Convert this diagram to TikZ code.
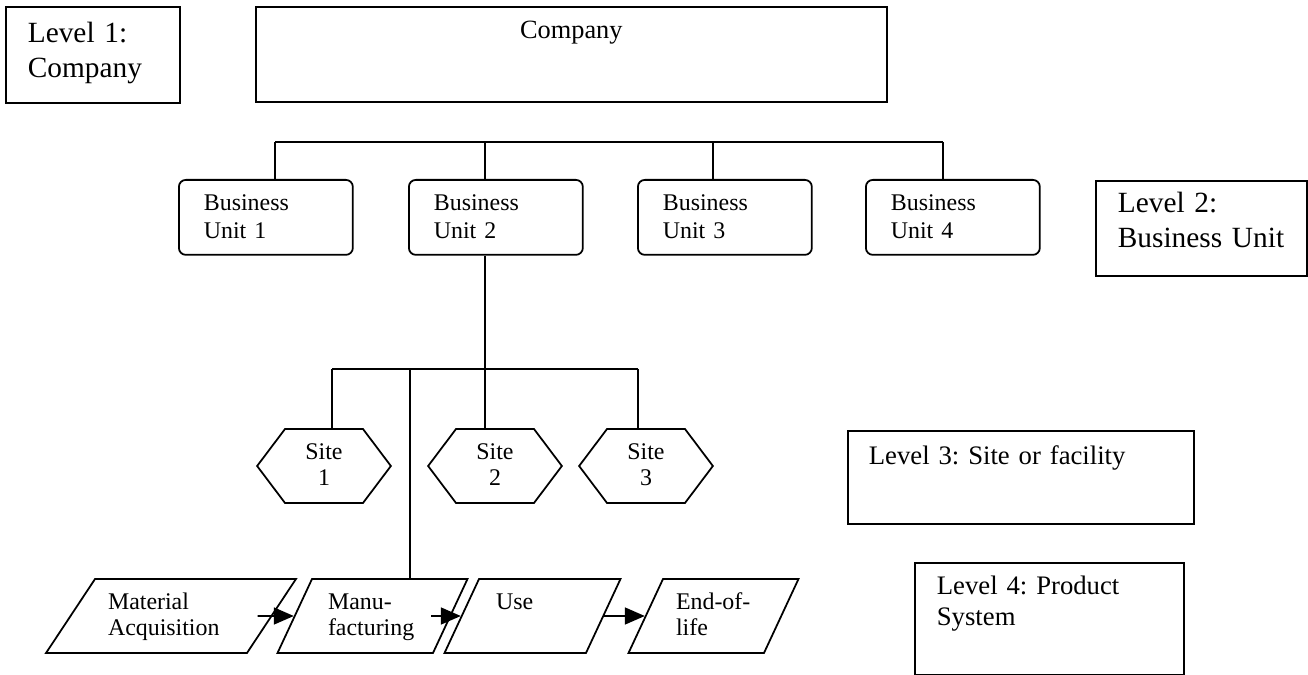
\documentclass[tikz,border=0pt]{standalone}
\usepackage{fontspec}
\setmainfont{Liberation Serif}
\usetikzlibrary{positioning,shapes.geometric,shapes.symbols,arrows.meta}
\frenchspacing

\begin{document}
\begin{tikzpicture}[x=0.02cm,y=-0.02cm,line width=1pt,
  lvlbox/.style={draw, anchor=north west, align=left, inner ysep=0pt, inner xsep=0.44cm, font=\fontsize{16.7}{19.6}\selectfont},
  unitbox/.style={draw, rounded corners=0.14cm, anchor=north west, align=left, inner ysep=0pt, inner xsep=0.5cm, text width=2.48cm, text height=0.62cm, text depth=0.88cm, font=\fontsize{13.6}{15.9}\selectfont},
  sitebox/.style={draw, signal, signal to=west and east, signal pointer angle=106, align=center, inner sep=0pt, text width=1.56cm, text height=0.6cm, text depth=0.88cm, font=\fontsize{13.6}{14.8}\selectfont},
  stagebox/.style={draw, trapezium, trapezium left angle=65, trapezium right angle=115, align=left, inner ysep=0pt, text height=0.6cm, text depth=0.88cm, font=\fontsize{13.6}{14.8}\selectfont},
  flow/.style={-{Triangle[length=0.4cm,width=0.34cm]}}
]
\useasboundingbox (0,0) rectangle (1308,675);

% level 1
\node[lvlbox, text width=2.6cm, text height=0.72cm, text depth=1.2cm] (lvlone) at (5,6) {Level 1:\\Company};
\node[draw, anchor=north west, align=center, inner sep=0pt, text width=12.62cm, text height=0.64cm, text depth=1.26cm, font=\fontsize{15}{18}\selectfont] (company) at (255,6) {Company};

% level 2
\foreach \i/\x in {1/178,2/408,3/637,4/865}
  \node[unitbox] (bu\i) at (\x,179) {Business\\Unit \i};
\node[lvlbox, text width=3.34cm, text height=0.64cm, text depth=1.26cm] (lvltwo) at (1095,180) {Level 2:\\Business Unit};

\draw (275,142) -- (943,142);
\foreach \u/\x in {bu1/275,bu2/485,bu3/713,bu4/943}
  \draw (\x,142) -- (\x,0 |- \u.north);

% level 3
\node[sitebox] (site1) at (324,466) {Site\\1};
\node[sitebox] (site2) at (495,466) {Site\\2};
\node[sitebox] (site3) at (646,466) {Site\\3};
\node[lvlbox, font=\fontsize{15.2}{17.4}\selectfont, inner xsep=0.42cm, text width=6.08cm, text height=0.68cm, text depth=1.18cm] (lvlthree) at (847,430) {Level 3: Site or facility};

\draw (485,0 |- bu2.south) -- (485,0 |- site2.north);
\draw (332,369) -- (638,369);
\foreach \s/\x in {site1/332,site3/638}
  \draw (\x,369) -- (\x,0 |- \s.north);

% level 4
\node[stagebox, trapezium left angle=56.5, trapezium right angle=123.5, inner xsep=0.26cm, text width=2.52cm] (matacq) at (171,616) {Material\\Acquisition};
\node[stagebox, inner xsep=0.32cm, text width=1.78cm] (manuf) at (372.5,616) {Manu-\\facturing};
\node[stagebox, inner xsep=0.34cm, text width=1.46cm] (usephase) at (532.5,616) {Use};
\node[stagebox, inner xsep=0.26cm, text width=1.5cm] (eol) at (713.5,616) {End-of-\\life};
\node[lvlbox, font=\fontsize{15.2}{17.4}\selectfont, text width=4.5cm, text height=0.64cm, text depth=1.6cm] (lvlfour) at (914,562) {Level 4: Product\\System};

\draw (410,369) -- (410,0 |- manuf.north);
\draw[flow] ([xshift=-0.3cm]matacq.east) -- (manuf.west);
\draw[flow] ([xshift=-0.4cm]manuf.east) -- (usephase.west);
\draw[flow] (usephase.east) -- (eol.west);
\end{tikzpicture}
\end{document}
